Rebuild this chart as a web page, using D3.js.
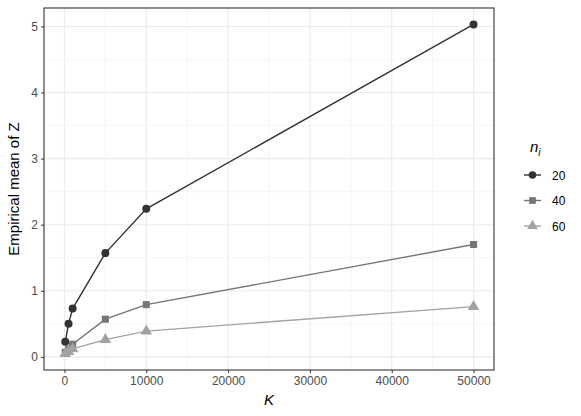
<!DOCTYPE html>
<html>
<head>
<meta charset="utf-8">
<script src="https://cdn.jsdelivr.net/npm/d3@7"></script>
<style>
  body { margin: 0; background: #fff; }
  text { font-family: "Liberation Sans", Arial, sans-serif; }
</style>
</head>
<body>
<div id="chart"></div>
<script>
// data
const kValues = [100, 500, 1000, 5000, 10000, 50000];
const seriesNames = ["20", "40", "60"];
const mean20 = [0.23, 0.50, 0.73, 1.57, 2.24, 5.03];
const mean40 = [0.07, 0.12, 0.19, 0.57, 0.79, 1.70];
const mean60 = [0.05, 0.08, 0.12, 0.26, 0.39, 0.76];
const xTicks = [0, 10000, 20000, 30000, 40000, 50000];
const yTicks = [0, 1, 2, 3, 4, 5];

const W = 581, H = 416;
const panel = { left: 44, right: 494, top: 8, bottom: 370 };
const colors = ["#333333", "#767676", "#a2a2a2"];
const shapes = [d3.symbolCircle, d3.symbolSquare, d3.symbolTriangle];

const data = [mean20, mean40, mean60].map((vals, i) => ({
  name: seriesNames[i],
  values: kValues.map((k, j) => ({ k: k, v: vals[j] }))
}));

const svg = d3.select("#chart").append("svg")
  .attr("width", W).attr("height", H);

// ggplot style 5% expansion
const xMin = 0, xMax = d3.max(kValues);
const xPad = (xMax - xMin) * 0.05;
const x = d3.scaleLinear().domain([xMin - xPad, xMax + xPad]).range([panel.left, panel.right]);
const allV = data.flatMap(s => s.values.map(d => d.v));
const yMin = d3.min(allV), yMax = d3.max(allV);
const yPad = (yMax - yMin) * 0.05;
const y = d3.scaleLinear().domain([yMin - yPad, yMax + yPad]).range([panel.bottom, panel.top]);

// minor grid
const xMinor = d3.range(5000, 55000, 10000);
const yMinor = d3.range(0.5, 5.5, 1);
svg.append("g").selectAll("line").data(xMinor).join("line")
  .attr("x1", d => x(d)).attr("x2", d => x(d))
  .attr("y1", panel.top).attr("y2", panel.bottom)
  .attr("stroke", "#f0f0f0").attr("stroke-width", 0.6);
svg.append("g").selectAll("line").data(yMinor).join("line")
  .attr("y1", d => y(d)).attr("y2", d => y(d))
  .attr("x1", panel.left).attr("x2", panel.right)
  .attr("stroke", "#f0f0f0").attr("stroke-width", 0.6);

// major grid
svg.append("g").selectAll("line").data(xTicks).join("line")
  .attr("x1", d => x(d)).attr("x2", d => x(d))
  .attr("y1", panel.top).attr("y2", panel.bottom)
  .attr("stroke", "#ebebeb").attr("stroke-width", 1.1);
svg.append("g").selectAll("line").data(yTicks).join("line")
  .attr("y1", d => y(d)).attr("y2", d => y(d))
  .attr("x1", panel.left).attr("x2", panel.right)
  .attr("stroke", "#ebebeb").attr("stroke-width", 1.1);

// axes
const xAxis = svg.append("g")
  .attr("transform", `translate(0,${panel.bottom})`)
  .call(d3.axisBottom(x).tickValues(xTicks).tickFormat(d3.format("d")).tickSize(3).tickPadding(3));
const yAxis = svg.append("g")
  .attr("transform", `translate(${panel.left},0)`)
  .call(d3.axisLeft(y).tickValues(yTicks).tickFormat(d3.format("d")).tickSize(3).tickPadding(3));
[xAxis, yAxis].forEach(g => {
  g.select(".domain").remove();
  g.selectAll(".tick line").attr("stroke", "#333333").attr("stroke-width", 1);
  g.selectAll(".tick text").attr("fill", "#4d4d4d").style("font-size", "12px")
    .style("font-family", '"Liberation Sans", Arial, sans-serif');
});

// lines and points
const line = d3.line().x(d => x(d.k)).y(d => y(d.v));
data.forEach((s, i) => {
  svg.append("path").datum(s.values)
    .attr("fill", "none").attr("stroke", colors[i]).attr("stroke-width", 1.4)
    .attr("d", line);
  svg.append("g").selectAll("path").data(s.values).join("path")
    .attr("transform", d => `translate(${x(d.k)},${y(d.v)})`)
    .attr("d", d3.symbol().type(shapes[i]).size(i === 2 ? 58 : 50))
    .attr("fill", colors[i]);
});

// panel border
svg.append("rect")
  .attr("x", panel.left).attr("y", panel.top)
  .attr("width", panel.right - panel.left).attr("height", panel.bottom - panel.top)
  .attr("fill", "none").attr("stroke", "#333333").attr("stroke-width", 1.1);

// axis titles
svg.append("text")
  .attr("x", (panel.left + panel.right) / 2).attr("y", 405)
  .attr("text-anchor", "middle").style("font-size", "15px").style("font-style", "italic")
  .text("K");
svg.append("text")
  .attr("transform", `translate(19,${(panel.top + panel.bottom) / 2}) rotate(-90)`)
  .attr("text-anchor", "middle").style("font-size", "15px")
  .text("Empirical mean of Z");

// legend
const legend = svg.append("g").attr("transform", "translate(522,0)");
const title = legend.append("text").attr("x", 8).attr("y", 152)
  .style("font-size", "15px").style("font-style", "italic");
title.append("tspan").text("n");
title.append("tspan").attr("dy", 4).style("font-size", "10px").text("i");

data.forEach((s, i) => {
  const cy = 175 + i * 25.5;
  const g = legend.append("g");
  g.append("line").attr("x1", 2).attr("x2", 19).attr("y1", cy).attr("y2", cy)
    .attr("stroke", colors[i]).attr("stroke-width", 1.4);
  g.append("path").attr("transform", `translate(10.5,${cy})`)
    .attr("d", d3.symbol().type(shapes[i]).size(i === 2 ? 50 : 45))
    .attr("fill", colors[i]);
  g.append("text").attr("x", 30).attr("y", cy + 4.5)
    .style("font-size", "12px").attr("fill", "#000").text(s.name);
});
</script>
</body>
</html>
